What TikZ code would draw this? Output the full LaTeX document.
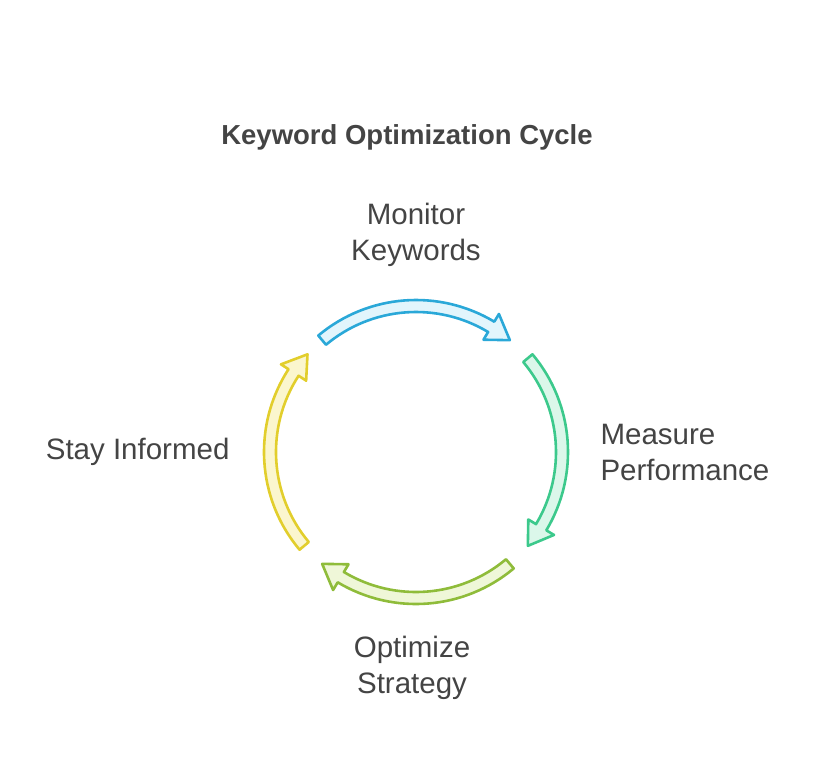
\documentclass[tikz,border=0pt]{standalone}
\usepackage{fontspec}
\setmainfont{Liberation Sans}
\definecolor{txtgray}{HTML}{444444}
\definecolor{bluestroke}{HTML}{2AA8D8}
\definecolor{bluefill}{HTML}{E2F5FC}
\definecolor{greenstroke}{HTML}{3CC98C}
\definecolor{greenfill}{HTML}{DBF7EA}
\definecolor{olivestroke}{HTML}{8FBC3A}
\definecolor{olivefill}{HTML}{EFF7D8}
\definecolor{yellowstroke}{HTML}{E2CE2C}
\definecolor{yellowfill}{HTML}{FBF6CE}
\tikzset{
  steplabel/.style={font=\fontsize{29.5}{36}\selectfont, text=txtgray, align=center},
  titlelabel/.style={font=\bfseries\fontsize{27.5}{32}\selectfont, text=txtgray},
  cyclearrow/.style={line width=2.6pt, line join=round}
}

\begin{document}
\begin{tikzpicture}[x=1pt, y=1pt]
\useasboundingbox (0,0) rectangle (813,-777);
\coordinate (c) at (416,-452);

\node [titlelabel] (title) at (407,-137) {Keyword Optimization Cycle};

% the four curved arrows
\foreach \s/\e/\col in {130/50/blue,
                        40/-40/green,
                        -50/-130/olive,
                        -140/-222/yellow}
  {
   \pgfmathsetmacro{\h}{\e+9}
   \draw [cyclearrow, draw=\col stroke, fill=\col fill, shift={(c)}]
     (\s:152) arc[start angle=\s, end angle=\h, radius=152]
     -- (\h:161) -- (\e:146) -- (\h:131) -- (\h:140)
     arc[start angle=\h, end angle=\s, radius=140] -- cycle;
  }

\node [steplabel] (monitor) at (416,-235) {Monitor\\Keywords};
\node [steplabel, align=left, anchor=west] (measure) at (597,-452) {Measure\\Performance};
\node [steplabel] (optimize) at (412,-668) {Optimize\\Strategy};
\node [steplabel, anchor=east] (informed) at (233,-452) {Stay Informed};
\end{tikzpicture}
\end{document}
